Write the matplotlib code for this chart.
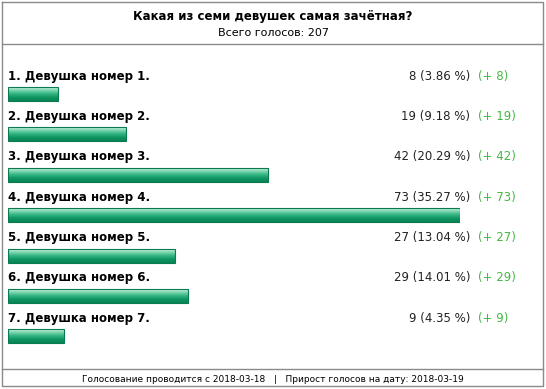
import numpy as np
import matplotlib
matplotlib.use('Agg')
import matplotlib.pyplot as plt

# poll data
title = 'Какая из семи девушек самая зачётная?'
total_label = 'Всего голосов: 207'
options = ['1. Девушка номер 1.', '2. Девушка номер 2.', '3. Девушка номер 3.',
           '4. Девушка номер 4.', '5. Девушка номер 5.', '6. Девушка номер 6.',
           '7. Девушка номер 7.']
votes = [8, 19, 42, 73, 27, 29, 9]
percents = [3.86, 9.18, 20.29, 35.27, 13.04, 14.01, 4.35]
gains = [8, 19, 42, 73, 27, 29, 9]
footer = 'Голосование проводится с 2018-03-18   |   Прирост голосов на дату: 2018-03-19'

W, H = 546, 389
fig = plt.figure(figsize=(W / 100, H / 100), dpi=100)

# pixel-coordinate axes for frame and text
ax = fig.add_axes([0, 0, 1, 1])
ax.set_xlim(0, W)
ax.set_ylim(H, 0)
ax.axis('off')

border = '#8a8a8a'
ax.plot([2, 543, 543, 2, 2], [2, 2, 386, 386, 2], color=border, lw=1)
ax.plot([2, 543], [44, 44], color=border, lw=1)
ax.plot([2, 543], [369, 369], color=border, lw=1)

ax.text(W / 2, 16, title, ha='center', va='center', fontsize=8.5, fontweight='bold')
ax.text(W / 2, 33, total_label, ha='center', va='center', fontsize=8)
ax.text(W / 2, 379, footer, ha='center', va='center', fontsize=6.5)

row0, step = 76, 40.4
label_y = [row0 + i * step for i in range(len(options))]
bar_y = [y + 18 for y in label_y]

for i, name in enumerate(options):
    ax.text(8, label_y[i], name, ha='left', va='center', fontsize=8.5, fontweight='bold')
    ax.text(470, label_y[i], f'{votes[i]} ({percents[i]:.2f} %)', ha='right', va='center',
            fontsize=8.5, color='#222222')
    ax.text(478, label_y[i], f'(+ {gains[i]})', ha='left', va='center',
            fontsize=8.5, color='#44b844')

# bar axes: x in votes, y in pixels
bax = fig.add_axes([8 / W, 0, (460 - 8) / W, 1])
bax.set_xlim(0, max(votes))
bax.set_ylim(H, 0)
bax.axis('off')
bax.patch.set_alpha(0)

grad_colors = np.array([
    [0.80, 0.95, 0.88],
    [0.45, 0.82, 0.66],
    [0.18, 0.70, 0.50],
    [0.06, 0.58, 0.38],
    [0.03, 0.52, 0.33],
])
t = np.linspace(0, 1, 32)
grad = np.stack([np.interp(t, np.linspace(0, 1, len(grad_colors)), grad_colors[:, c])
                 for c in range(3)], axis=1)[:, None, :]

bars = bax.barh(bar_y, votes, height=14, color='none', edgecolor='#0b7a4e', lw=0.8)
for b, v, y in zip(bars, votes, bar_y):
    im = bax.imshow(grad, extent=[0, v, y + 7, y - 7], aspect='auto', interpolation='bilinear')
    im.set_clip_path(b)
bax.set_xlim(0, max(votes))
bax.set_ylim(H, 0)

fig.savefig('out.png', dpi=100)
